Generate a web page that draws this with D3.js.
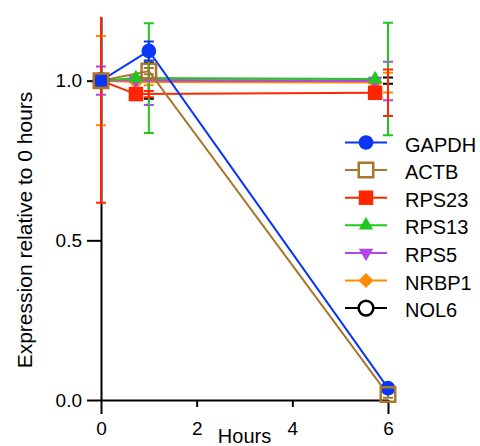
<!DOCTYPE html>
<html>
<head>
<meta charset="utf-8">
<script src="https://cdn.jsdelivr.net/npm/d3@7"></script>
<style>
  body { margin: 0; background: #fff; }
  svg { font-family: "Liberation Sans", Arial, sans-serif; }
</style>
</head>
<body>
<div id="chart"></div>
<script>
// time points (hours)
var hours = [0, 1, 6];

var genes = ["GAPDH", "ACTB", "RPS23", "RPS13", "RPS5", "NRBP1", "NOL6"];
var colors = ["#0a36f5", "#a8772c", "#ff2600", "#1ec81e", "#b444ee", "#ff8c00", "#000000"];
var shapes = ["circle", "square", "square", "triangle", "triangleDown", "diamond", "openCircle"];
var filled = [true, false, true, true, true, true, false];
// markers for some genes were shifted left a bit in the original
var shift = [0, 0, -0.27, -0.27, -0.27, -0.27, -0.27];
// how many points of each series carry a visible marker
var markedPoints = [3, 3, 3, 3, 3, 3, 1];

var GAPDH = [1.0, 1.093, 0.037];
var ACTB  = [1.0, 1.03, 0.017];
var RPS23 = [1.0, 0.958, 0.962];
var RPS13 = [1.0, 1.008, 1.005];
var RPS5  = [1.0, 1.002, 0.999];
var NRBP1 = [1.0, 0.996, 0.994];
var NOL6  = [1.0, 1.0, 1.0];

var GAPDH_err = [0.01, 0.03, 0.01];
var ACTB_err  = [0.01, 0.01, 0.01];
var RPS23_err = [0.382, 0.01, 0.073];
var RPS13_err = [0.01, 0.172, 0.176];
var RPS5_err  = [0.044, 0.078, 0.06];
var NRBP1_err = [0.14, 0.01, 0.031];
var NOL6_err  = [0.01, 0.057, 0.01];

var values = [GAPDH, ACTB, RPS23, RPS13, RPS5, NRBP1, NOL6];
var errors = [GAPDH_err, ACTB_err, RPS23_err, RPS13_err, RPS5_err, NRBP1_err, NOL6_err];

var xTicks = [0, 2, 4, 6];
var yTicks = [0, 0.5, 1.0];

var w = 480, h = 446;

var x = d3.scaleLinear().domain([0, 6]).range([101, 388]);
var y = d3.scaleLinear().domain([0, 1.2]).range([400, 16.8]);

var svg = d3.select("#chart").append("svg")
    .attr("width", w)
    .attr("height", h);

var defs = svg.append("defs");
defs.append("clipPath")
    .attr("id", "plotclip")
  .append("rect")
    .attr("x", x(0))
    .attr("y", y(1.2))
    .attr("width", w - x(0))
    .attr("height", h - y(1.2));
defs.append("clipPath")
    .attr("id", "topclip")
  .append("rect")
    .attr("x", 0)
    .attr("y", y(1.2))
    .attr("width", w)
    .attr("height", h - y(1.2));

// axes
var xAxis = svg.append("g")
    .attr("transform", "translate(0," + y(0) + ")")
    .call(d3.axisBottom(x).tickValues(xTicks).tickSize(7).tickSizeOuter(0).tickPadding(15).tickFormat(d3.format("d")));
xAxis.selectAll(".tick line").filter(d => d == 0 || d == 6).attr("y2", 14);

var yAxis = svg.append("g")
    .attr("transform", "translate(" + x(0) + ",0)")
    .call(d3.axisLeft(y).tickValues(yTicks).tickSize(14).tickSizeOuter(0).tickPadding(5).tickFormat(d3.format(".1f")));

svg.selectAll(".domain, .tick line").attr("stroke", "#000").attr("stroke-width", 2);
svg.selectAll(".tick text").attr("font-size", 19).attr("fill", "#000").attr("font-family", "Liberation Sans, Arial, sans-serif");

svg.append("text")
    .attr("transform", "translate(32," + 230 + ") rotate(-90)")
    .attr("text-anchor", "middle")
    .attr("font-size", 21)
    .text("Expression relative to 0 hours");

svg.append("text")
    .attr("x", (x(0) + x(6)) / 2)
    .attr("y", 443)
    .attr("text-anchor", "middle")
    .attr("font-size", 20)
    .text("Hours");

function markerPath(shape) {
    if (shape == "circle" || shape == "openCircle") return d3.symbol(d3.symbolCircle, 170)();
    if (shape == "square") return d3.symbol(d3.symbolSquare, 210)();
    if (shape == "triangle" || shape == "triangleDown") return d3.symbol(d3.symbolTriangle, 90)();
    if (shape == "diamond") return d3.symbol(d3.symbolSquare, 115)();
}
function markerRotate(shape) {
    if (shape == "triangleDown") return " rotate(180)";
    if (shape == "diamond") return " rotate(45)";
    return "";
}

// draw order: bottom series first
var order = [6, 5, 4, 3, 2, 0, 1];

// error bars
var bars = svg.append("g").attr("clip-path", "url(#topclip)");
order.forEach(function(s) {
    var g = bars.append("g");
    hours.forEach(function(t, i) {
        var v = values[s][i], e = errors[s][i];
        g.append("line")
            .attr("x1", x(t)).attr("x2", x(t))
            .attr("y1", y(v - e)).attr("y2", y(v + e))
            .attr("stroke", colors[s]).attr("stroke-width", 2);
        [v - e, v + e].forEach(function(c) {
            g.append("line")
                .attr("x1", x(t) - 5).attr("x2", x(t) + 5)
                .attr("y1", y(c)).attr("y2", y(c))
                .attr("stroke", colors[s]).attr("stroke-width", 2);
        });
    });
});

var line = d3.line()
    .x(d => x(d.t))
    .y(d => y(d.v));

var plot = svg.append("g").attr("clip-path", "url(#plotclip)");
order.forEach(function(s) {
    var pts = hours.map((t, i) => ({t: t + (i > 0 ? shift[s] : 0), v: values[s][i]}));
    plot.append("path")
        .datum(pts)
        .attr("d", line)
        .attr("fill", "none")
        .attr("stroke", colors[s])
        .attr("stroke-width", 2);
});

var marks = svg.append("g");
order.forEach(function(s) {
    var pts = hours.map((t, i) => ({t: t + (i > 0 ? shift[s] : 0), v: values[s][i]}))
        .slice(0, markedPoints[s]);
    marks.selectAll(null)
        .data(pts)
        .enter()
        .append("path")
        .attr("d", markerPath(shapes[s]))
        .attr("transform", d => "translate(" + x(d.t) + "," + y(d.v) + ")" + markerRotate(shapes[s]))
        .attr("fill", filled[s] ? colors[s] : "none")
        .attr("stroke", colors[s])
        .attr("stroke-width", filled[s] ? 0 : 2.5);
});

// legend
var legend = svg.append("g");
genes.forEach(function(name, i) {
    var ly = 142.5 + i * 27.6;
    var row = legend.append("g").attr("transform", "translate(0," + ly + ")");
    row.append("line")
        .attr("x1", 345).attr("x2", 387)
        .attr("stroke", colors[i]).attr("stroke-width", 2);
    row.append("path")
        .attr("d", markerPath(shapes[i]))
        .attr("transform", "translate(366,0)" + markerRotate(shapes[i]))
        .attr("fill", filled[i] ? colors[i] : "#fff")
        .attr("stroke", colors[i])
        .attr("stroke-width", filled[i] ? 0 : 2.5);
    row.append("text")
        .attr("x", 405)
        .attr("y", 9)
        .attr("font-size", 20)
        .text(name);
});
</script>
</body>
</html>
